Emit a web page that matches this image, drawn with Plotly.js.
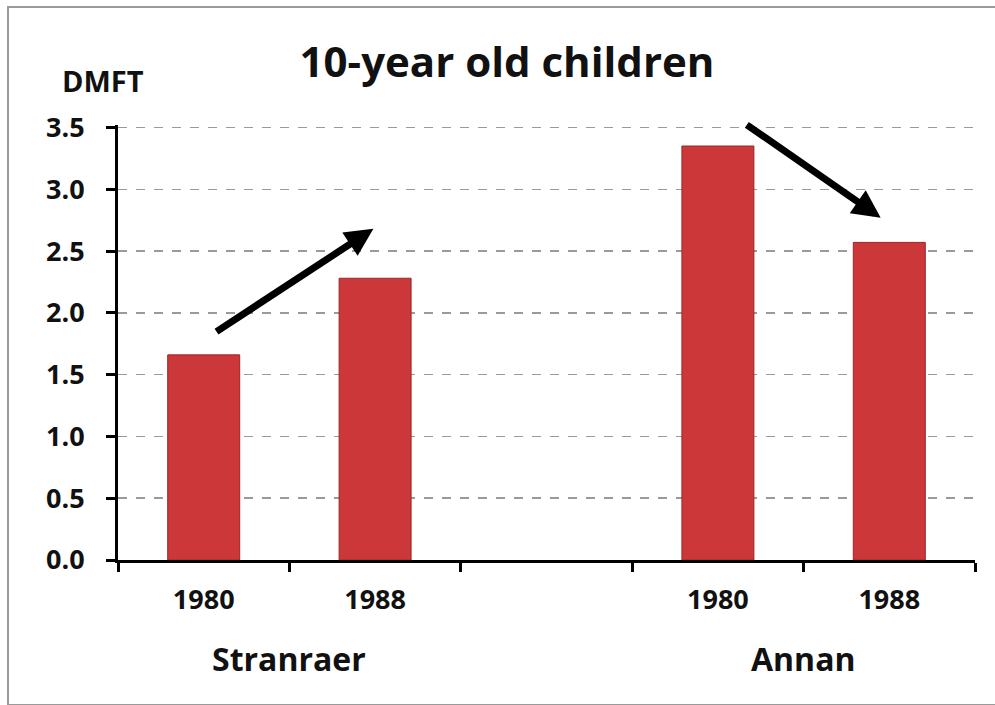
<!DOCTYPE html>
<html>
<head>
<meta charset="utf-8">
<script src="https://cdn.plot.ly/plotly-3.0.1.min.js"></script>
<style>html,body{margin:0;padding:0;background:#fff;}#chart{width:995px;height:705px;}</style>
</head>
<body>
<div id="chart"></div>
<script>
// Data
const slots = ["S1980", "S1988", "gap", "A1980", "A1988"];
const slotLabels = ["1980", "1988", "", "1980", "1988"];
const dmft = [1.66, 2.28, null, 3.35, 2.57];
const groups = ["Stranraer", "Annan"];
const groupCenters = [0.5, 3.5];
const yTicks = [0, 0.5, 1.0, 1.5, 2.0, 2.5, 3.0, 3.5];
// trend arrows: [tailX, tailY, headX, headY] in axis units
const arrowUp = [0.066, 1.84, 0.99, 2.68];
const arrowDown = [3.16, 3.53, 3.95, 2.77];

const FONT = "Open Sans, Liberation Sans, sans-serif";
const PH = 435; // plot height in px, for paper-coordinate placement

const trace = {
  type: "bar",
  x: slots,
  y: dmft,
  width: 0.42,
  marker: { color: "#cc383a", line: { color: "#9a2626", width: 1 } },
  hoverinfo: "skip"
};

function arrow(a) {
  return {
    x: a[2], y: a[3], ax: a[0], ay: a[1],
    xref: "x", yref: "y", axref: "x", ayref: "y",
    text: "", showarrow: true, arrowhead: 2, arrowsize: 0.8,
    arrowwidth: 7, arrowcolor: "#000000", standoff: 0, startstandoff: 0
  };
}

const annotations = [
  arrow(arrowUp), arrow(arrowDown),
  { text: "<b>DMFT</b>", xref: "paper", yref: "paper", x: -0.0175, y: (560 - 80) / PH,
    xanchor: "center", yanchor: "middle", showarrow: false,
    font: { family: FONT, size: 29, color: "#111" } }
];
groups.forEach((g, i) => annotations.push({
  text: "<b>" + g + "</b>", xref: "x", yref: "paper", x: groupCenters[i], y: (560 - 658) / PH,
  xanchor: "center", yanchor: "middle", showarrow: false,
  font: { family: FONT, size: 32, color: "#111" }
}));

const layout = {
  width: 995, height: 705,
  margin: { l: 118, r: 20, t: 125, b: 145 },
  paper_bgcolor: "#ffffff", plot_bgcolor: "#ffffff",
  showlegend: false,
  title: {
    text: "<b>10-year old children</b>",
    x: 507 / 995, xref: "container", xanchor: "center",
    y: 1 - 62 / 705, yref: "container", yanchor: "middle",
    font: { family: FONT, size: 42, color: "#111" }
  },
  xaxis: {
    type: "category", categoryorder: "array", categoryarray: slots,
    tickvals: slots, ticktext: slotLabels,
    range: [-0.5, 4.5],
    tickson: "boundaries", ticks: "outside", ticklen: 9, tickwidth: 3, tickcolor: "#000",
    showline: true, linecolor: "#000", linewidth: 3,
    showgrid: false, zeroline: false,
    ticklabelstandoff: 14,
    tickfont: { family: FONT, size: 27, color: "#111", weight: "bold" }
  },
  yaxis: {
    range: [0, 3.52], tickvals: yTicks, tickformat: ".1f",
    ticks: "outside", ticklen: 9, tickwidth: 3, tickcolor: "#000",
    showline: true, linecolor: "#000", linewidth: 3,
    showgrid: true, gridcolor: "#9a9a9a", gridwidth: 1.5, griddash: "dash",
    zeroline: false,
    ticklabelstandoff: 16,
    tickfont: { family: FONT, size: 27, color: "#111", weight: "bold" }
  },
  annotations: annotations,
  shapes: [{
    type: "rect", xref: "paper", yref: "paper",
    x0: (8 - 118) / 857, x1: (1000 - 118) / 857,
    y0: (560 - 705) / PH, y1: (560 - 7) / PH,
    line: { color: "#9a9a9a", width: 2 }, fillcolor: "rgba(0,0,0,0)", layer: "below"
  }]
};

Plotly.newPlot("chart", [trace], layout, { staticPlot: true, displayModeBar: false });
</script>
</body>
</html>
